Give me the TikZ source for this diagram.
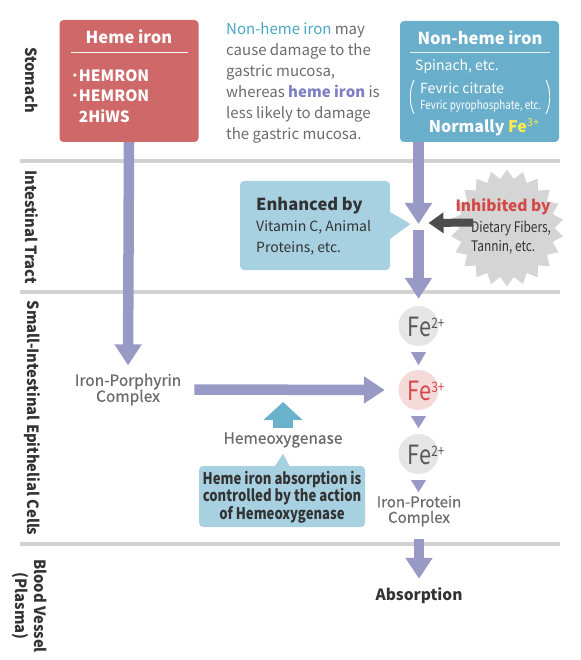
\documentclass[tikz,border=0pt]{standalone}
\usepackage{fontspec}
\setmainfont{Noto Sans CJK JP}
\newfontfamily\condfont[FakeStretch=0.82]{Noto Sans CJK JP}
\newfontfamily\labfont[FakeStretch=0.95]{Noto Sans CJK JP}
\newfontfamily\medfont[FakeBold=0.7]{Noto Sans CJK JP}
\usetikzlibrary{arrows.meta,shapes.symbols,calc}
\definecolor{hemered}{HTML}{CF6868}
\definecolor{nonhemeblue}{HTML}{69AECA}
\definecolor{calloutblue}{HTML}{A7D0E1}
\definecolor{arrowpurple}{HTML}{9999C6}
\definecolor{sepgray}{HTML}{D2D2D2}
\definecolor{fegray}{HTML}{E5E5E5}
\definecolor{fepink}{HTML}{F5DADA}
\definecolor{inhred}{HTML}{D44848}
\definecolor{feyellow}{HTML}{F7EC4E}
\definecolor{textgray}{HTML}{6B6B6B}
\definecolor{darktext}{HTML}{333333}
\definecolor{fetextgray}{HTML}{575757}
\definecolor{burstgray}{HTML}{D5D5D5}
\definecolor{darkarrow}{HTML}{4D4D4D}
\definecolor{tealarrow}{HTML}{6AB1CC}
\definecolor{midblue}{HTML}{4BA6C4}
\definecolor{hemepurple}{HTML}{7F7FC2}
\newcommand\myfs[2]{\fontsize{#1}{#2}\selectfont}
\newcommand\fetext[1]{{\condfont\myfs{26.5}{26.5}Fe}\raisebox{8pt}{\condfont\myfs{14.5}{14.5}#1}}
\tikzset{
  boxnode/.style={rectangle, rounded corners=4pt, inner sep=0pt},
  sidelabel/.style={rotate=-90, font=\labfont\bfseries\myfs{15.5}{19}, text=darktext, inner sep=0pt},
  sepline/.style={draw=sepgray, line width=4pt},
  bigarrow/.style={draw=arrowpurple, line width=10.5pt, -{Triangle[width=26pt,length=21pt]}},
  smalltri/.style={fill=arrowpurple},
  fecircle/.style={circle, minimum size=40pt, inner sep=0pt},
  graylabel/.style={font=\medfont\myfs{15.5}{16}, text=textgray, align=center, inner sep=0pt},
}
\begin{document}
\begin{tikzpicture}[x=1pt, y=-1pt]
\useasboundingbox (0,0) rectangle (580,660);

% separators
\draw[sepline] (20,161.5) -- (560,161.5);
\draw[sepline] (20,292) -- (560,292);
\draw[sepline] (20,544) -- (560,544);

% side labels
\node[sidelabel] (stomach) at (32,80) {Stomach};
\node[sidelabel] (intest) at (32,227) {Intestinal Tract};
\node[sidelabel] (smallint) at (32,418) {Small-Intestinal Epithelial Cells};
\node[sidelabel, align=center] (blood) at (29.5,606) {Blood Vessel\\(Plasma)};

% heme iron box
\node[boxnode, fill=hemered, minimum width=139pt, minimum height=122pt] (heme) at (129,81) {};
\node[font=\bfseries\myfs{16.5}{18}, text=white, inner sep=0pt] (hemeT) at (129,37) {Heme iron};
\draw[white, line width=1pt] (71,52.5) -- (188,52.5);
\node[anchor=west, align=left, font=\bfseries\myfs{15.5}{20.5}, text=white, inner sep=0pt] (hemeL) at (71,96) {･HEMRON\\･HEMRON\\\phantom{･}2HiWS};

% middle text
\node[anchor=west, align=left, font=\myfs{15}{21}, text=textgray, inner sep=0pt] (mid) at (226,82.5) {{\color{midblue}Non-heme iron} may\\cause damage to the\\gastric mucosa,\\whereas {\color{hemepurple}\bfseries heme iron} is\\less likely to damage\\the gastric mucosa.};

% non-heme iron box
\node[boxnode, fill=nonhemeblue, minimum width=159pt, minimum height=121pt] (nonheme) at (479.5,81.5) {};
\node[font=\bfseries\myfs{16.5}{18}, text=white, inner sep=0pt] (nonhemeT) at (480,38) {Non-heme iron};
\draw[white!85!nonhemeblue, line width=1pt] (410,53) -- (550,53);
\node[anchor=west, font=\myfs{14}{16}, text=white, inner sep=0pt] (spinach) at (415,67) {Spinach, etc.};
\node[anchor=west, font=\myfs{14}{16}, text=white, inner sep=0pt] (citrate) at (420,88) {Fevric citrate};
\node[anchor=west, font=\condfont\myfs{12}{14}, text=white, inner sep=0pt] (pyro) at (420,106) {Fevric pyrophosphate, etc.};
\draw[white, line width=0.9pt] (414,80) .. controls (409,90) and (409,104) .. (414,114);
\draw[white, line width=0.9pt] (546,80) .. controls (551,90) and (551,104) .. (546,114);
\node[font=\bfseries\myfs{16}{18}, text=white, inner sep=0pt] (normally) at (484,127) {Normally {\color{feyellow}Fe\raisebox{6pt}{\mdseries\myfs{11}{11}3+}}};

% junction on the right column
\coordinate (junc) at (418.5,224);

% enhanced-by callout
\node[boxnode, fill=calloutblue, minimum width=150pt, minimum height=89pt] (enh) at (315,225.5) {};
\fill[calloutblue] ($(enh.east)+(-1,-14)$) -- ($(junc)+(-8,0)$) -- ($(enh.east)+(-1,14)$) -- cycle;
\node[anchor=west, align=left, inner sep=0pt, text=darktext, font=\myfs{14}{21}] (enhT) at (256,226) {{\bfseries\myfs{16.5}{22}Enhanced by}\\Vitamin C, Animal\\Proteins, etc.};

% inhibited-by starburst
\node[starburst, starburst points=22, starburst point height=9pt, random starburst=0, fill=burstgray, minimum width=113pt, minimum height=117pt, inner sep=0pt] (burst) at (507,228) {};
\node[font=\bfseries\myfs{15.5}{18}, text=inhred, inner sep=0pt] (inhT) at (503,207) {Inhibited by};
\node[anchor=west, align=left, font=\condfont\myfs{14.5}{19.5}, text=darktext, inner sep=0pt] (inhL) at (471,237.5) {Dietary Fibers,\\Tannin, etc.};
\draw[draw=darkarrow, line width=8pt, -{Triangle[width=20pt,length=15pt]}] ([xshift=14pt,yshift=5.5pt]burst.west) -- ([xshift=10pt,yshift=1pt]junc);

% right column arrows and iron states
\draw[bigarrow] (junc |- nonheme.south) -- (junc);
\node[fecircle, fill=fegray] (fe2a) at (418.5,326) {};
\node[text=fetextgray, inner sep=0pt] (fe2aT) at (426,327) {\fetext{2+}};
\draw[bigarrow] ([yshift=-6pt]junc) -- ([yshift=7pt]fe2a.north);
\fill[smalltri] ($(fe2a.south)+(-7.5,6)$) -- ++(15,0) -- ++(-7.5,13) -- cycle;
\node[fecircle, fill=fepink] (fe3) at (418.5,390) {};
\node[text=inhred, inner sep=0pt] (fe3T) at (426,391) {\fetext{3+}};
\fill[smalltri] ($(fe3.south)+(-7.5,6)$) -- ++(15,0) -- ++(-7.5,12) -- cycle;
\node[fecircle, fill=fegray] (fe2b) at (418.5,454) {};
\node[text=fetextgray, inner sep=0pt] (fe2bT) at (426,455) {\fetext{2+}};
\fill[smalltri] ($(fe2b.south)+(-7.5,6)$) -- ++(15,0) -- ++(-7.5,12) -- cycle;
\node[graylabel, font=\medfont\myfs{15}{15.5}] (protein) at (419,511) {Iron-Protein\\Complex};
\node[font=\bfseries\myfs{15.5}{18}, text=darktext, inner sep=0pt] (absorb) at (419,596) {Absorption};
\draw[bigarrow] ([yshift=-13pt]protein.south) -- ([yshift=9pt]absorb.north);

% heme path
\node[graylabel] (porph) at (128,389.5) {Iron-Porphyrin\\Complex};
\draw[bigarrow] (heme.south) -- ([yshift=8pt]porph.north);
\draw[bigarrow] ([xshift=13pt]porph.east) -- ([xshift=-13.5pt]fe3.west);

% hemeoxygenase
\node[graylabel] (hemeox) at (283,440) {Hemeoxygenase};
\draw[draw=tealarrow, line width=20pt, -{Triangle[width=38pt,length=18pt]}] ([yshift=4pt]hemeox.north) -- ([yshift=-12.5pt]porph.east -| hemeox.north);

% hemeoxygenase callout
\node[boxnode, fill=calloutblue, minimum width=166pt, minimum height=61pt] (ctrl) at (282,496.5) {};
\fill[calloutblue] ($(ctrl.north)+(-7.5,1)$) -- ($(hemeox.south)+(0,6)$) -- ($(ctrl.north)+(8,1)$) -- cycle;
\node[align=center, font=\condfont\bfseries\myfs{16}{16.5}, text=darktext, inner sep=0pt] (ctrlT) at (282,497) {Heme iron absorption is\\controlled by the action\\of Hemeoxygenase};
\end{tikzpicture}
\end{document}
